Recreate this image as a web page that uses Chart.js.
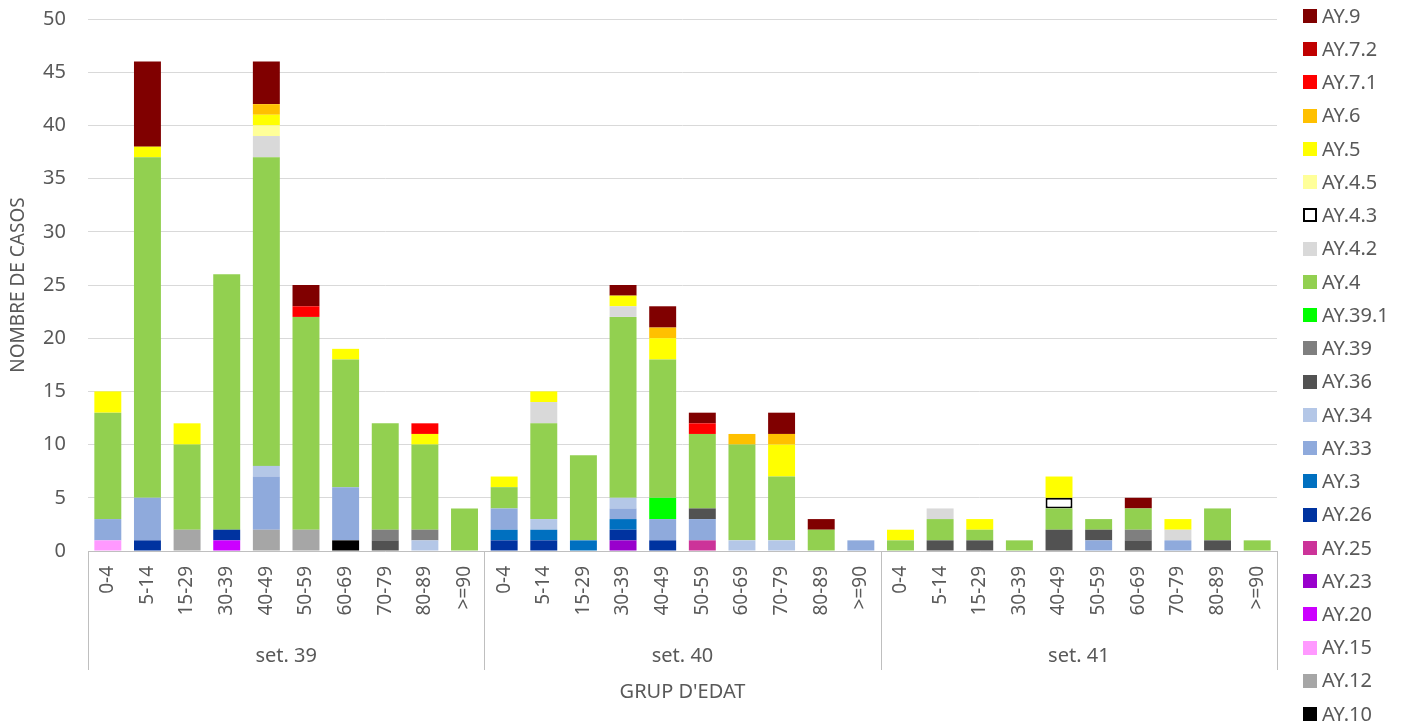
<!DOCTYPE html>
<html>
<head>
<meta charset="utf-8">
<script src="https://cdn.jsdelivr.net/npm/chart.js@4.4.0/dist/chart.umd.min.js"></script>
<style>
html,body{margin:0;padding:0;background:#fff;}
#c{display:block;}
</style>
</head>
<body>
<canvas id="c" width="1410" height="724"></canvas>
<script>
// ---- categories ----
const weeks = ['set. 39', 'set. 40', 'set. 41'];
const ageGroups = ['0-4','5-14','15-29','30-39','40-49','50-59','60-69','70-79','80-89','>=90'];

// ---- series values (30 per series: set.39 x10, set.40 x10, set.41 x10) ----
const AY_10   = [0,0,0,0,0,0,1,0,0,0, 0,0,0,0,0,0,0,0,0,0, 0,0,0,0,0,0,0,0,0,0];
const AY_12   = [0,0,2,0,2,2,0,0,0,0, 0,0,0,0,0,0,0,0,0,0, 0,0,0,0,0,0,0,0,0,0];
const AY_15   = [1,0,0,0,0,0,0,0,0,0, 0,0,0,0,0,0,0,0,0,0, 0,0,0,0,0,0,0,0,0,0];
const AY_20   = [0,0,0,1,0,0,0,0,0,0, 0,0,0,0,0,0,0,0,0,0, 0,0,0,0,0,0,0,0,0,0];
const AY_23   = [0,0,0,0,0,0,0,0,0,0, 0,0,0,1,0,0,0,0,0,0, 0,0,0,0,0,0,0,0,0,0];
const AY_25   = [0,0,0,0,0,0,0,0,0,0, 0,0,0,0,0,1,0,0,0,0, 0,0,0,0,0,0,0,0,0,0];
const AY_26   = [0,1,0,1,0,0,0,0,0,0, 1,1,0,1,1,0,0,0,0,0, 0,0,0,0,0,0,0,0,0,0];
const AY_3    = [0,0,0,0,0,0,0,0,0,0, 1,1,1,1,0,0,0,0,0,0, 0,0,0,0,0,0,0,0,0,0];
const AY_33   = [2,4,0,0,5,0,5,0,0,0, 2,0,0,1,2,2,0,0,0,1, 0,0,0,0,0,1,0,1,0,0];
const AY_34   = [0,0,0,0,1,0,0,0,1,0, 0,1,0,1,0,0,1,1,0,0, 0,0,0,0,0,0,0,0,0,0];
const AY_36   = [0,0,0,0,0,0,0,1,0,0, 0,0,0,0,0,1,0,0,0,0, 0,1,1,0,2,1,1,0,1,0];
const AY_39   = [0,0,0,0,0,0,0,1,1,0, 0,0,0,0,0,0,0,0,0,0, 0,0,0,0,0,0,1,0,0,0];
const AY_39_1 = [0,0,0,0,0,0,0,0,0,0, 0,0,0,0,2,0,0,0,0,0, 0,0,0,0,0,0,0,0,0,0];
const AY_4    = [10,32,8,24,29,20,12,10,8,4, 2,9,8,17,13,7,9,6,2,0, 1,2,1,1,2,1,2,0,3,1];
const AY_4_2  = [0,0,0,0,2,0,0,0,0,0, 0,2,0,1,0,0,0,0,0,0, 0,1,0,0,0,0,0,1,0,0];
const AY_4_3  = [0,0,0,0,0,0,0,0,0,0, 0,0,0,0,0,0,0,0,0,0, 0,0,0,0,1,0,0,0,0,0];
const AY_4_5  = [0,0,0,0,1,0,0,0,0,0, 0,0,0,0,0,0,0,0,0,0, 0,0,0,0,0,0,0,0,0,0];
const AY_5    = [2,1,2,0,1,0,1,0,1,0, 1,1,0,1,2,0,0,3,0,0, 1,0,1,0,2,0,0,1,0,0];
const AY_6    = [0,0,0,0,1,0,0,0,0,0, 0,0,0,0,1,0,1,1,0,0, 0,0,0,0,0,0,0,0,0,0];
const AY_7_1  = [0,0,0,0,0,1,0,0,1,0, 0,0,0,0,0,1,0,0,0,0, 0,0,0,0,0,0,0,0,0,0];
const AY_7_2  = [0,0,0,0,0,0,0,0,0,0, 0,0,0,0,0,0,0,0,0,0, 0,0,0,0,0,0,0,0,0,0];
const AY_9    = [0,8,0,0,4,2,0,0,0,0, 0,0,0,1,2,1,0,2,1,0, 0,0,0,0,0,0,1,0,0,0];

// ---- tick labels ----
const yTicks = [0,5,10,15,20,25,30,35,40,45,50];
const yTitle = 'NOMBRE DE CASOS';
const xTitle = "GRUP D'EDAT";

// series, bottom of stack first
const seriesNames  = ['AY.10','AY.12','AY.15','AY.20','AY.23','AY.25','AY.26','AY.3','AY.33','AY.34','AY.36','AY.39','AY.39.1','AY.4','AY.4.2','AY.4.3','AY.4.5','AY.5','AY.6','AY.7.1','AY.7.2','AY.9'];
const seriesValues = [AY_10,AY_12,AY_15,AY_20,AY_23,AY_25,AY_26,AY_3,AY_33,AY_34,AY_36,AY_39,AY_39_1,AY_4,AY_4_2,AY_4_3,AY_4_5,AY_5,AY_6,AY_7_1,AY_7_2,AY_9];
const seriesColors = ['#000000','#A6A6A6','#FF99FF','#CC00FF','#9900CC','#CC3399','#0033A0','#0070C0','#8FAADC','#B4C7E7','#525252','#7F7F7F','#00FF00','#92D050','#D9D9D9','#FFFFFF','#FFFF99','#FFFF00','#FFC000','#FF0000','#C00000','#800000'];

const labels = [];
weeks.forEach(w => ageGroups.forEach(a => labels.push(a)));

const FONT = '"Noto Sans", sans-serif';
const TXT = '#595959';

const datasets = seriesNames.map((n, i) => ({
  label: n,
  data: seriesValues[i],
  backgroundColor: seriesColors[i],
  borderColor: n === 'AY.4.3' ? '#000000' : seriesColors[i],
  borderWidth: n === 'AY.4.3' ? 2 : 0,
  borderSkipped: false,
  barPercentage: 0.68,
  categoryPercentage: 1.0
}));

const extras = {
  id: 'extras',
  afterDraw(chart) {
    const ctx = chart.ctx;
    const x = chart.scales.x;
    const ca = chart.chartArea;
    const n = ageGroups.length;
    ctx.save();
    // group separators
    ctx.strokeStyle = '#BFBFBF';
    ctx.lineWidth = 1;
    const seps = [ca.left];
    for (let g = 1; g < weeks.length; g++) {
      seps.push(Math.round((x.getPixelForValue(g*n - 1) + x.getPixelForValue(g*n)) / 2));
    }
    seps.push(ca.right);
    seps.forEach(px => {
      ctx.beginPath();
      ctx.moveTo(Math.round(px) + 0.5, ca.bottom);
      ctx.lineTo(Math.round(px) + 0.5, 670);
      ctx.stroke();
    });
    // group labels
    ctx.fillStyle = TXT;
    ctx.font = '20px ' + FONT;
    ctx.textAlign = 'center';
    ctx.textBaseline = 'middle';
    weeks.forEach((w, g) => {
      const cx = (x.getPixelForValue(g*n) + x.getPixelForValue(g*n + n - 1)) / 2;
      ctx.fillText(w, cx, 656);
    });
    // x title
    ctx.fillText(xTitle, (ca.left + ca.right) / 2, 692);
    // y title
    ctx.save();
    ctx.translate(19, (ca.top + ca.bottom) / 2);
    ctx.rotate(-Math.PI / 2);
    ctx.font = '19px ' + FONT;
    ctx.fillText(yTitle, 0, 0);
    ctx.restore();
    // legend (top of stack first)
    ctx.textAlign = 'left';
    ctx.font = '20px ' + FONT;
    const ds = chart.data.datasets;
    const step = (714 - 16) / (ds.length - 1);
    for (let k = 0; k < ds.length; k++) {
      const d = ds[ds.length - 1 - k];
      const cy = 16 + k * step;
      if (d.borderWidth > 0) {
        ctx.fillStyle = d.backgroundColor;
        ctx.fillRect(1304, Math.round(cy - 6), 12, 12);
        ctx.strokeStyle = d.borderColor;
        ctx.lineWidth = 2;
        ctx.strokeRect(1304, Math.round(cy - 6), 12, 12);
      } else {
        ctx.fillStyle = d.backgroundColor;
        ctx.fillRect(1303, Math.round(cy - 7), 14, 14);
      }
      ctx.fillStyle = TXT;
      ctx.fillText(d.label, 1322, cy + 1);
    }
    ctx.restore();
  }
};

new Chart(document.getElementById('c'), {
  type: 'bar',
  data: { labels, datasets },
  options: {
    responsive: false,
    animation: false,
    devicePixelRatio: 1,
    layout: { padding: { top: 19, right: 133, left: 0, bottom: 0 } },
    plugins: { legend: { display: false }, tooltip: { enabled: false } },
    scales: {
      x: {
        stacked: true,
        grid: { display: false, drawTicks: false },
        border: { display: true, color: '#BFBFBF', width: 1 },
        ticks: {
          autoSkip: false, maxRotation: 90, minRotation: 90,
          padding: 15, color: TXT, font: { family: FONT, size: 19 }
        },
        afterFit(s) { s.height = 173; s.paddingLeft = 0; s.paddingRight = 0; }
      },
      y: {
        stacked: true,
        min: 0, max: 50,
        afterBuildTicks(s) { s.ticks = yTicks.map(v => ({ value: v })); },
        grid: { color: '#D9D9D9', lineWidth: 1, drawTicks: false },
        border: { display: false },
        ticks: { padding: 22, color: TXT, font: { family: FONT, size: 20 } },
        afterFit(s) { s.width = 88; s.paddingTop = 0; s.paddingBottom = 0; }
      }
    }
  },
  plugins: [extras]
});
</script>
</body>
</html>
